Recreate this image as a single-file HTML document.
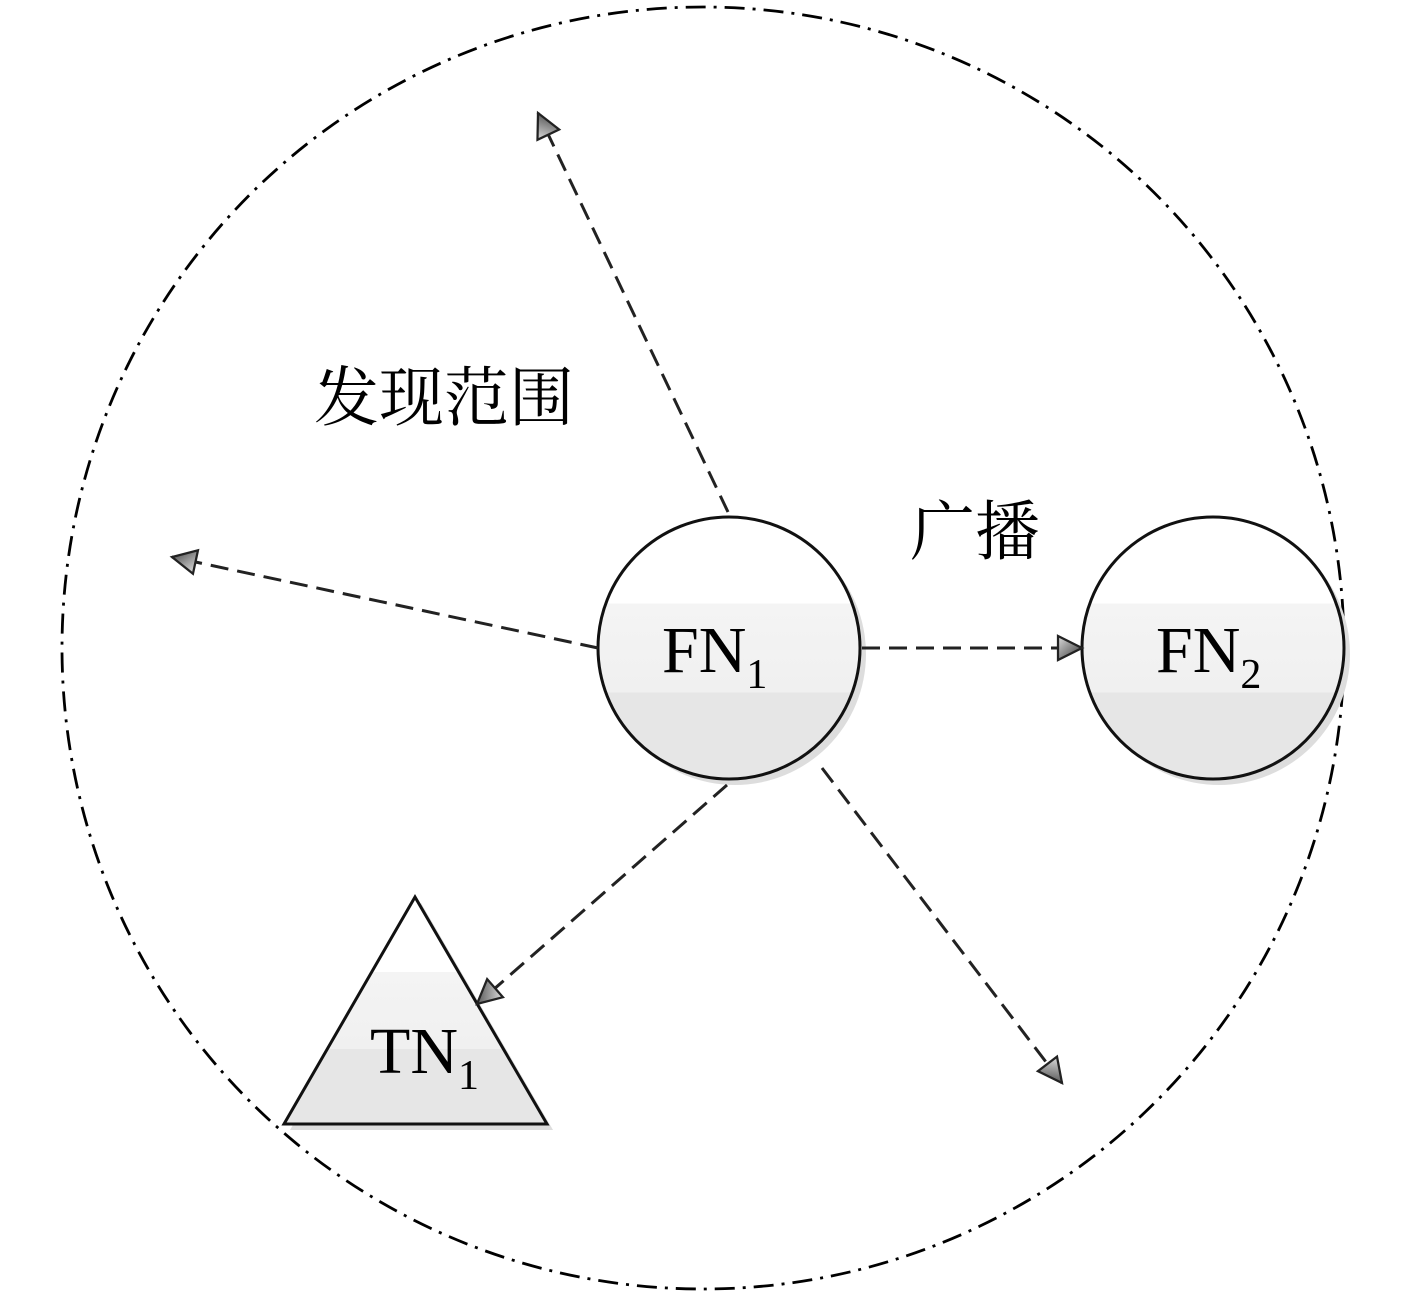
<!DOCTYPE html>
<html><head><meta charset="utf-8"><style>
html,body{margin:0;padding:0;background:#fff;}
svg{display:block;}
text{font-family:"Liberation Serif","Noto Serif CJK SC",serif;}
</style></head><body>
<svg width="1417" height="1299" viewBox="0 0 1417 1299" xmlns="http://www.w3.org/2000/svg">
<defs>
<linearGradient id="g" x1="0" y1="0" x2="0" y2="1">
<stop offset="0" stop-color="#fff"/><stop offset="0.33" stop-color="#fff"/>
<stop offset="0.33" stop-color="#f4f4f4"/><stop offset="0.67" stop-color="#f0f0f0"/>
<stop offset="0.67" stop-color="#e6e6e6"/><stop offset="1" stop-color="#e6e6e6"/>
</linearGradient>
<linearGradient id="ah" x1="0" y1="0" x2="1" y2="1">
<stop offset="0" stop-color="#ddd"/><stop offset="1" stop-color="#333"/>
</linearGradient>
<marker id="m" viewBox="0 0 20 20" refX="18" refY="10" markerWidth="30" markerHeight="30" markerUnits="userSpaceOnUse" orient="auto">
<path d="M2,2 L18,10 L2,18 Z" fill="url(#ah)" stroke="#222" stroke-width="1.5"/>
</marker>
</defs>
<circle cx="703" cy="648" r="641" fill="none" stroke="#000" stroke-width="2.8" stroke-dasharray="20,8,3,8"/>
<circle cx="735" cy="654" r="131" fill="#ddd"/>
<circle cx="1219" cy="654" r="131" fill="#ddd"/>
<polygon points="421,903 290,1130 553,1130" fill="#ddd"/>
<circle cx="729" cy="648" r="131" fill="url(#g)" stroke="#111" stroke-width="3"/>
<circle cx="1213" cy="648" r="131" fill="url(#g)" stroke="#111" stroke-width="3"/>
<polygon points="415,897 284,1124 547,1124" fill="url(#g)" stroke="#111" stroke-width="3"/>
<g stroke="#222" stroke-width="3" stroke-dasharray="18,9" fill="none" marker-end="url(#m)">
<line x1="728" y1="512" x2="538" y2="113"/>
<line x1="598" y1="648" x2="172" y2="557"/>
<line x1="862" y1="648" x2="1082" y2="648"/>
<line x1="727" y1="785" x2="477" y2="1004"/>
<line x1="822" y1="768" x2="1062" y2="1083"/>
</g>
<text x="662" y="672" font-size="66">FN<tspan font-size="42" dy="16">1</tspan></text>
<text x="1156" y="672" font-size="66">FN<tspan font-size="42" dy="16">2</tspan></text>
<text x="370" y="1073" font-size="66">TN<tspan font-size="42" dy="16">1</tspan></text>
<text x="314" y="420" font-size="65">发现范围</text>
<text x="910" y="554" font-size="65">广播</text>
</svg>
</body></html>
